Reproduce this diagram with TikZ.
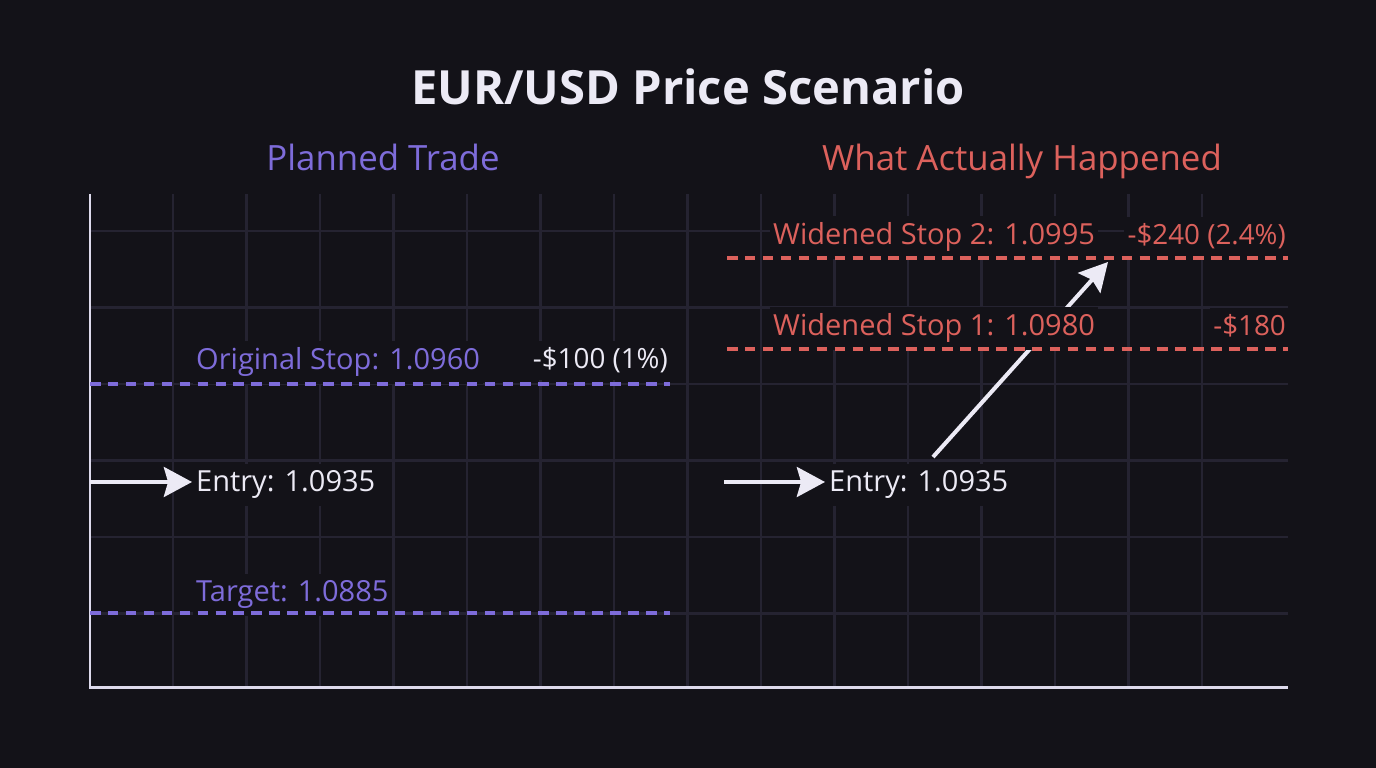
\documentclass[tikz,border=0pt]{standalone}
\usepackage{fontspec}
\setmainfont{Open Sans}
\usetikzlibrary{arrows.meta}
\definecolor{bgdark}{HTML}{131218}
\definecolor{gridc}{HTML}{252331}
\definecolor{axisc}{HTML}{DDDAEC}
\definecolor{plan}{HTML}{7E6CDA}
\definecolor{real}{HTML}{DC615C}
\definecolor{textw}{HTML}{ECEAF5}
\tikzset{
  gridline/.style={gridc, line width=0.6pt},
  level/.style={line width=1.05pt, dash pattern=on 3pt off 2.1pt},
  pointer/.style={textw, line width=1.15pt, -{Stealth[length=8pt,width=8.5pt,inset=1.2pt]}},
  tag/.style={fill=bgdark, inner xsep=1pt, inner ysep=2pt, font=\fontsize{8.25}{9}\selectfont},
  money/.style={tag, font=\fontsize{7.9}{9}\selectfont},
  heading/.style={anchor=base, font=\fontsize{9.9}{11}\selectfont},
}
\begin{document}
\begin{tikzpicture}[x=0.01cm,y=-0.01cm]
\fill[bgdark] (0,0) rectangle (1376,768);
\useasboundingbox (0,0) rectangle (1376,768);
% grid
\foreach \i in {0,...,14}
  \draw[gridline] ({173+73.5*\i},194) -- ({173+73.5*\i},688);
\foreach \j in {0,...,5}
  \draw[gridline] (90,{231+76.5*\j}) -- (1288,{231+76.5*\j});
% axes
\draw[axisc, line width=0.85pt] (90,194) -- (90,688) -- (1288,688);

% headings
\node[text=textw, anchor=base, font=\fontsize{13.4}{15}\selectfont\bfseries] (title) at (688,105) {EUR/USD Price Scenario};
\node[text=plan, heading] (plannedHd) at (383,171) {Planned Trade};
\node[text=real, heading] (actualHd) at (1022,171) {What Actually Happened};

% move of the stop
\coordinate (entL) at (90,482);
\coordinate (entR) at (724,482);
\coordinate (riseA) at (933,457);
\coordinate (riseB) at (1108,262);
\draw[pointer] (riseA) -- (riseB);

% planned trade
\node[tag, text=plan, anchor=base west] (origStop) at (192,370) {Original Stop: 1.0960};
\node[money, text=textw, anchor=base east] (origLoss) at (672,369) {-\$100 (1\%)};
\node[tag, text=textw, anchor=base west] (entryP) at (192,492) {Entry: 1.0935};
\node[tag, text=plan, anchor=base west] (target) at (192,602) {Target: 1.0885};
\draw[pointer] (entL) -- (entryP.west |- entL);

% what happened
\node[tag, text=real, anchor=base west] (stopTwo) at (769,245) {Widened Stop 2: 1.0995};
\node[money, text=real, anchor=base east] (lossTwo) at (1290,245) {-\$240 (2.4\%)};
\node[tag, text=real, anchor=base west] (stopOne) at (769,336) {Widened Stop 1: 1.0980};
\node[money, text=real, anchor=base east] (lossOne) at (1290,336) {-\$180};
\node[tag, text=textw, anchor=base west] (entryA) at (825,492) {Entry: 1.0935};
\draw[pointer] (entR) -- (entryA.west |- entR);

% levels
\draw[level, plan] (90,384) -- (670,384);
\draw[level, plan] (90,613) -- (670,613);
\draw[level, real] (727,258) -- (1288,258);
\draw[level, real] (727,349) -- (1288,349);
\end{tikzpicture}
\end{document}
